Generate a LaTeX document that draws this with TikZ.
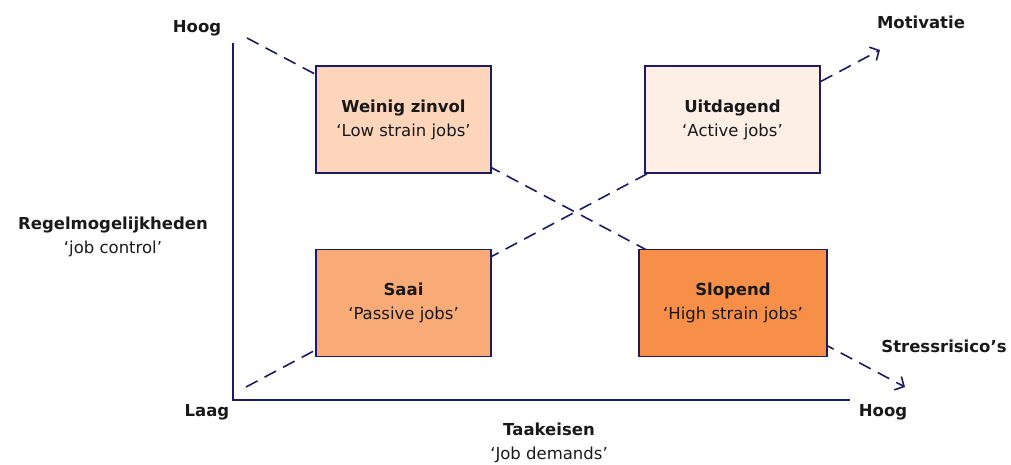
\documentclass[tikz,border=0pt]{standalone}
\usepackage{fontspec}
\setmainfont{DejaVu Sans}
\usetikzlibrary{arrows.meta}
\definecolor{navy}{RGB}{27,27,102}
\definecolor{ink}{RGB}{25,25,25}
\definecolor{lowstrain}{RGB}{252,213,187}
\definecolor{active}{RGB}{253,239,230}
\definecolor{passive}{RGB}{248,170,119}
\definecolor{highstrain}{RGB}{247,143,73}
\tikzstyle{quad}=[draw=navy, line width=1.6pt, minimum width=175pt,
    minimum height=107pt, inner sep=0pt, align=center, text=ink]
\tikzstyle{lbl}=[align=center, text=ink, inner sep=0pt]
\tikzstyle{axis}=[draw=navy, line width=1.8pt]
\tikzstyle{diag}=[draw=navy, line width=1.6pt, dash pattern=on 13pt off 8pt]
\tikzstyle{tip}=[-{Straight Barb[length=7pt,width=15pt,line width=1.6pt]}]
\def\txt{\fontsize{16.5}{24}\selectfont}

\begin{document}
\begin{tikzpicture}[x=1pt, y=-1pt, font=\txt]
    \useasboundingbox (0,0) rectangle (1011,464);
    \coordinate (top) at (233,43);
    \coordinate (origin) at (233,400);
    \coordinate (right) at (850,400);
    \coordinate (hs) at (247,38);
    \coordinate (he) at (905,387);
    \coordinate (ls) at (246,387);
    \coordinate (le) at (880,50);
    \draw[axis] (top) -- (origin) -- (right);
    \draw[diag, tip] (hs) -- (he);
    \draw[diag, tip] (ls) -- (le);
    \node (wz) [quad, fill=lowstrain] at (403.5,119.5)
        {\textbf{Weinig zinvol}\\‘Low strain jobs’};
    \node (ud) [quad, fill=active] at (732.5,119.5)
        {\textbf{Uitdagend}\\‘Active jobs’};
    \node (sa) [quad, fill=passive] at (403.5,303)
        {\textbf{Saai}\\‘Passive jobs’};
    \node (sl) [quad, fill=highstrain, minimum width=188pt] at (733,303)
        {\textbf{Slopend}\\‘High strain jobs’};
    \node (hoogy) [lbl] at (197,28) {\textbf{Hoog}};
    \node (laag) [lbl] at (207,412) {\textbf{Laag}};
    \node (hoogx) [lbl] at (883,412) {\textbf{Hoog}};
    \node (motiv) [lbl] at (921,22) {\textbf{Motivatie}};
    \node (stress) [lbl] at (944,346) {\textbf{Stressrisico’s}};
    \node (regel) [lbl] at (113,237)
        {\textbf{Regelmogelijkheden}\\‘job control’};
    \node (taak) [lbl] at (549,443)
        {\textbf{Taakeisen}\\‘Job demands’};
\end{tikzpicture}
\end{document}
